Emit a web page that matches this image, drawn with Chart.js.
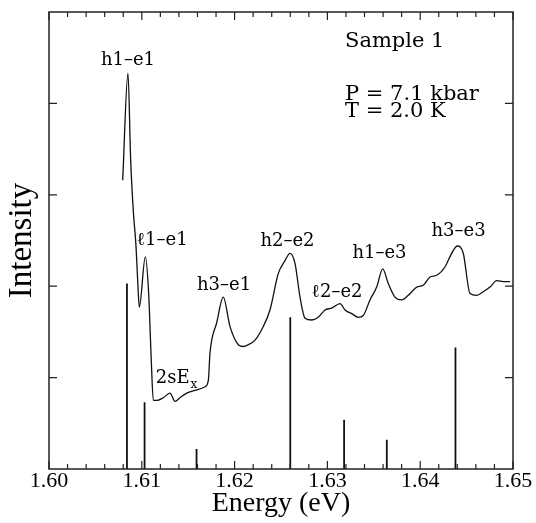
<!DOCTYPE html>
<html>
<head>
<meta charset="utf-8">
<title>Sample 1 spectrum</title>
<script src="https://cdn.jsdelivr.net/npm/chart.js@4.4.1/dist/chart.umd.min.js"></script>
<style>
  body { margin: 0; background: #fff; }
  canvas { display: block; }
</style>
</head>
<body>
<canvas id="chart" width="536" height="523"></canvas>
<script>
// Measured spectrum (energy in eV, intensity in arb. units)
var specEnergy = [
  1.60794, 1.60851, 1.60880, 1.60908, 1.60938, 1.60959, 1.60973, 1.61038, 1.61074, 1.61102,
  1.61124, 1.61161, 1.61232, 1.61304, 1.61358, 1.61412, 1.61484, 1.61573, 1.61681, 1.61717,
  1.61735, 1.61807, 1.61878, 1.61950, 1.62040, 1.62094, 1.62148, 1.62220, 1.62309, 1.62381,
  1.62471, 1.62543, 1.62597, 1.62651, 1.62705, 1.62759, 1.62831, 1.62902, 1.62974, 1.63046,
  1.63136, 1.63190, 1.63262, 1.63333, 1.63387, 1.63459, 1.63531, 1.63596, 1.63656, 1.63728,
  1.63801, 1.63872, 1.63962, 1.64033, 1.64106, 1.64178, 1.64267, 1.64339, 1.64400, 1.64464,
  1.64537, 1.64609, 1.64680, 1.64752, 1.64824, 1.64896, 1.64968
];
var specIntensity = [
  3.16, 4.33, 3.38, 2.83, 2.43, 1.99, 1.77, 2.32, 1.92, 1.19,
  0.75, 0.75, 0.78, 0.83, 0.74, 0.78, 0.83, 0.86, 0.90, 0.97,
  1.27, 1.60, 1.88, 1.56, 1.36, 1.34, 1.36, 1.41, 1.56, 1.74,
  2.14, 2.28, 2.36, 2.25, 1.88, 1.65, 1.63, 1.66, 1.74, 1.76,
  1.81, 1.74, 1.70, 1.66, 1.68, 1.85, 1.99, 2.19, 2.03, 1.88,
  1.85, 1.90, 1.99, 2.01, 2.10, 2.12, 2.21, 2.36, 2.44, 2.36,
  1.92, 1.90, 1.94, 1.99, 2.06, 2.05, 2.05
];

// Calculated transitions (stick spectrum)
var lineEnergy = [1.6084, 1.6103, 1.6159, 1.6260, 1.6318, 1.6364, 1.6438];
var lineStrength = [2.03, 0.73, 0.22, 1.66, 0.54, 0.32, 1.33];

// Axis ticks
var xMajorTicks = [1.60, 1.61, 1.62, 1.63, 1.64, 1.65];
var xMinorStep = 0.002;
var yTicks = [1, 2, 3, 4];

// Peak labels (text, subscript, energy, intensity at text middle)
var peakText = ['h1\u2013e1', '\u21131\u2013e1', 'h3\u2013e1', '2sE', 'h2\u2013e2', '\u21132\u2013e2', 'h1\u2013e3', 'h3\u2013e3'];
var peakSub = ['', '', '', 'x', '', '', '', ''];
var peakEnergy = [1.60851, 1.61218, 1.61886, 1.61369, 1.62570, 1.63103, 1.63561, 1.64413];
var peakLevel = [4.47, 2.50, 2.01, 0.99, 2.49, 1.93, 2.36, 2.60];

// Sample info (baselines)
var infoText = ['Sample 1', 'P = 7.1 kbar', 'T = 2.0 K'];
var infoEnergy = 1.63190;
var infoLevel = [4.62, 4.04, 3.85];

var FONT = "'Liberation Serif', 'DejaVu Serif', serif";
var LABEL_FONT = "'DejaVu Serif', serif";
Chart.defaults.font.family = FONT;
Chart.defaults.color = '#000';

var spectrum = specEnergy.map(function(e, i) { return { x: e, y: specIntensity[i] }; });
var sticks = [];
lineEnergy.forEach(function(e, i) {
  sticks.push({ x: e, y: 0 });
  sticks.push({ x: e, y: lineStrength[i] });
  sticks.push({ x: e, y: null });
});

// frame, inward ticks and text labels
var decorations = {
  id: 'decorations',
  afterDatasetsDraw: function(chart) {
    var ctx = chart.ctx;
    var a = chart.chartArea;
    var xs = chart.scales.x;
    var ys = chart.scales.y;
    ctx.save();
    ctx.strokeStyle = '#222';
    ctx.lineWidth = 1.5;
    ctx.strokeRect(a.left, a.top, a.right - a.left, a.bottom - a.top);

    ctx.lineWidth = 1.2;
    ctx.beginPath();
    for (var v = 1.60; v <= 1.6501; v += xMinorStep) {
      var px = xs.getPixelForValue(v);
      var major = xMajorTicks.some(function(t) { return Math.abs(t - v) < 1e-6; });
      var len = major ? 8 : 5;
      ctx.moveTo(px, a.bottom); ctx.lineTo(px, a.bottom - len);
      ctx.moveTo(px, a.top); ctx.lineTo(px, a.top + len);
    }
    yTicks.forEach(function(t) {
      var py = ys.getPixelForValue(t);
      ctx.moveTo(a.left, py); ctx.lineTo(a.left + 8, py);
      ctx.moveTo(a.right, py); ctx.lineTo(a.right - 8, py);
    });
    ctx.stroke();

    ctx.fillStyle = '#000';
    ctx.textBaseline = 'middle';
    ctx.textAlign = 'left';
    peakText.forEach(function(txt, i) {
      var cx = xs.getPixelForValue(peakEnergy[i]);
      var cy = ys.getPixelForValue(peakLevel[i]);
      ctx.font = '18px ' + LABEL_FONT;
      var w = ctx.measureText(txt).width;
      var sw = 0;
      if (peakSub[i]) {
        ctx.font = '12px ' + LABEL_FONT;
        sw = ctx.measureText(peakSub[i]).width;
        ctx.font = '18px ' + LABEL_FONT;
      }
      var x0 = cx - (w + sw) / 2;
      ctx.fillText(txt, x0, cy);
      if (peakSub[i]) {
        ctx.font = '12px ' + LABEL_FONT;
        ctx.fillText(peakSub[i], x0 + w + 1, cy + 6);
      }
    });

    ctx.font = '21px ' + LABEL_FONT;
    ctx.textBaseline = 'alphabetic';
    infoText.forEach(function(txt, i) {
      ctx.fillText(txt, xs.getPixelForValue(infoEnergy), ys.getPixelForValue(infoLevel[i]));
    });
    ctx.restore();
  }
};

new Chart(document.getElementById('chart'), {
  type: 'scatter',
  data: {
    datasets: [
      {
        data: spectrum,
        showLine: true,
        borderColor: '#111',
        borderWidth: 1.3,
        pointRadius: 0,
        cubicInterpolationMode: 'monotone'
      },
      {
        data: sticks,
        showLine: true,
        spanGaps: false,
        borderColor: '#111',
        borderWidth: 1.8,
        pointRadius: 0
      }
    ]
  },
  options: {
    responsive: false,
    animation: false,
    layout: { padding: { top: 12, right: 23 } },
    plugins: { legend: { display: false }, tooltip: { enabled: false } },
    scales: {
      x: {
        type: 'linear',
        min: 1.60,
        max: 1.65,
        afterFit: function(s) { s.height = 54; },
        grid: { display: false, drawTicks: false },
        border: { display: false },
        ticks: {
          stepSize: 0.01,
          autoSkip: false,
          maxRotation: 0,
          padding: -1,
          font: { size: 22 },
          callback: function(v) { return v.toFixed(2); }
        },
        title: {
          display: true,
          text: 'Energy (eV)',
          font: { size: 28 },
          padding: { top: 0, bottom: 3 }
        }
      },
      y: {
        min: 0,
        max: 5,
        afterFit: function(s) { s.width = 49; },
        grid: { display: false, drawTicks: false },
        border: { display: false },
        ticks: { display: false, stepSize: 1 },
        title: {
          display: true,
          text: 'Intensity',
          font: { size: 33 },
          padding: { top: 3, bottom: 0 }
        }
      }
    }
  },
  plugins: [decorations]
});
</script>
</body>
</html>
